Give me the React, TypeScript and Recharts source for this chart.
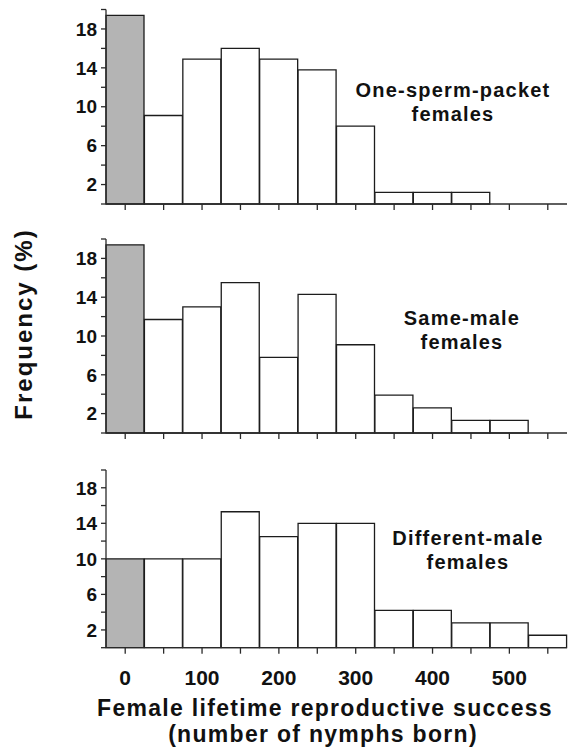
import { BarChart, Bar, XAxis, YAxis, Cell } from "recharts";

// bins are 50 nymphs wide, labelled by their centre
const bins = [0, 50, 100, 150, 200, 250, 300, 350, 400, 450, 500, 550];

// frequency (%) per bin
const onePacket = [19.4, 9.1, 14.9, 16.0, 14.9, 13.8, 8.0, 1.2, 1.2, 1.2, null, null];
const sameMale = [19.4, 11.7, 13.0, 15.5, 7.8, 14.3, 9.1, 3.9, 2.6, 1.3, 1.3, null];
const diffMale = [10.0, 10.0, 10.0, 15.3, 12.5, 14.0, 14.0, 4.2, 4.2, 2.8, 2.8, 1.4];

const yTicks = [0, 2, 4, 6, 8, 10, 12, 14, 16, 18, 20];
const yTickLabels = [2, 6, 10, 14, 18];
const xTickLabels = [0, 100, 200, 300, 400, 500];

const panelLabels = [
  ["One-sperm-packet", "females"],
  ["Same-male", "females"],
  ["Different-male", "females"],
];

const axisColor = "#2a2a2a";
const barStroke = "#1c1c1c";
const zeroFill = "#b4b4b4";

const toRows = (values: (number | null)[]) =>
  bins.map((bin, i) => ({ bin, freq: values[i] }));

type PanelProps = {
  values: (number | null)[];
  top: number;
  height: number;
  marginTop: number;
  axisHeight: number;
  showXLabels?: boolean;
};

function Panel({ values, top, height, marginTop, axisHeight, showXLabels }: PanelProps) {
  return (
    <div style={{ position: "absolute", left: 0, top }}>
      <BarChart
        width={573}
        height={height}
        data={toRows(values)}
        margin={{ top: marginTop, right: 6, left: 0, bottom: 0 }}
        barCategoryGap={0}
      >
        <XAxis
          dataKey="bin"
          type="category"
          interval={0}
          height={axisHeight}
          tickSize={6}
          tickMargin={16}
          axisLine={{ stroke: axisColor, strokeWidth: 1.3 }}
          tickLine={{ stroke: axisColor, strokeWidth: 1.3 }}
          tick={{ fill: "#111", fontSize: 21, fontWeight: "bold" }}
          tickFormatter={(v) =>
            showXLabels && xTickLabels.includes(Number(v)) ? String(v) : ""
          }
        />
        <YAxis
          type="number"
          domain={[0, 20]}
          ticks={yTicks}
          interval={0}
          width={106}
          tickSize={5}
          tickMargin={4}
          axisLine={{ stroke: axisColor, strokeWidth: 1.3 }}
          tickLine={{ stroke: axisColor, strokeWidth: 1.3 }}
          tick={{ fill: "#111", fontSize: 19, fontWeight: "bold" }}
          tickFormatter={(v) => (yTickLabels.includes(Number(v)) ? String(v) : "")}
        />
        <Bar
          dataKey="freq"
          fill="#ffffff"
          stroke={barStroke}
          strokeWidth={1.3}
          isAnimationActive={false}
        >
          {bins.map((bin, i) => (
            <Cell key={bin} fill={i === 0 ? zeroFill : "#ffffff"} />
          ))}
        </Bar>
      </BarChart>
    </div>
  );
}

export default function App() {
  const labelPos = [
    { x: 453, y: 97 },
    { x: 462, y: 325 },
    { x: 468, y: 545 },
  ];

  return (
    <div
      style={{
        position: "absolute",
        left: 0,
        top: 0,
        width: 573,
        height: 752,
        background: "#fff",
        fontFamily: "'Liberation Sans', Arial, sans-serif",
        fontWeight: "bold",
      }}
    >
      <Panel values={onePacket} top={0} height={220} marginTop={9.5} axisHeight={16} />
      <Panel values={sameMale} top={220} height={230} marginTop={19} axisHeight={17} />
      <Panel
        values={diffMale}
        top={450}
        height={250}
        marginTop={20}
        axisHeight={52.3}
        showXLabels
      />

      <svg
        width={573}
        height={752}
        style={{ position: "absolute", left: 0, top: 0, pointerEvents: "none" }}
      >
        {panelLabels.map((lines, i) => (
          <text
            key={lines[0]}
            x={labelPos[i].x}
            y={labelPos[i].y}
            textAnchor="middle"
            fontSize={20}
            fontWeight="bold"
            letterSpacing={1.2}
            fill="#111"
          >
            <tspan x={labelPos[i].x}>{lines[0]}</tspan>
            <tspan x={labelPos[i].x} dy={24}>
              {lines[1]}
            </tspan>
          </text>
        ))}

        <text
          x={32}
          y={324}
          transform="rotate(-90 32 324)"
          textAnchor="middle"
          fontSize={24}
          fontWeight="bold"
          letterSpacing={2}
          fill="#111"
        >
          Frequency (%)
        </text>

        <text
          x={325}
          y={716}
          textAnchor="middle"
          fontSize={23}
          fontWeight="bold"
          letterSpacing={1.3}
          fill="#111"
        >
          Female lifetime reproductive success
        </text>
        <text
          x={323}
          y={742}
          textAnchor="middle"
          fontSize={23}
          fontWeight="bold"
          letterSpacing={1.3}
          fill="#111"
        >
          (number of nymphs born)
        </text>
      </svg>
    </div>
  );
}
